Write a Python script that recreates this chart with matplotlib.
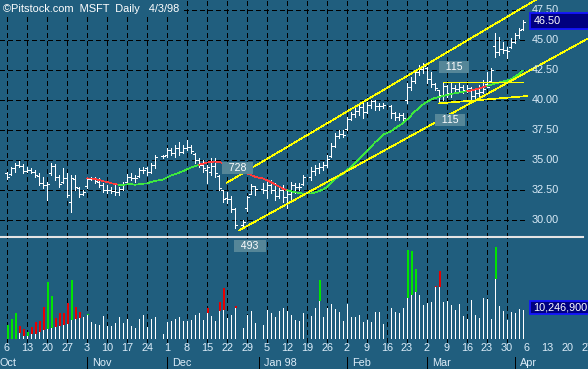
import numpy as np
import pandas as pd
import matplotlib
matplotlib.use("Agg")
import matplotlib.pyplot as plt
from matplotlib.collections import LineCollection
from matplotlib.patches import Rectangle
from matplotlib.lines import Line2D
import matplotlib.transforms as mtransforms

plt.rcParams['font.family'] = ['Liberation Sans', 'DejaVu Sans']

# ---------------- data ----------------
title = "\u00a9Pitstock.com  MSFT  Daily   4/3/98"
start = "1997-10-06"
end = "1998-04-03"
holidays = ["1997-11-27", "1997-12-25", "1998-01-01", "1998-01-19", "1998-02-16"]

high = [34.0, 34.4, 34.75, 34.9, 34.67,
        34.4, 34.33, 34.17, 33.9, 33.6,
        33.2, 34.75, 34.67, 33.75, 34.33,
        33.9, 33.75, 33.75, 32.75, 32.5,
        33.6, 33.6, 33.6, 33.5, 33.1,
        32.9, 32.75, 32.9, 32.75, 33.17,
        33.83, 33.9, 33.75, 34.33, 34.4,
        34.4, 34.75, 35.4, 35.4,
        36.0, 36.0, 36.25, 36.5, 36.25,
        36.67, 36.25, 35.6, 35.17, 35.0,
        34.6, 35.17, 35.17, 33.75, 32.5,
        32.33, 32.0, 31.0, 30.0,
        32.0, 33.0, 32.83, 33.1,
        33.17, 33.33, 33.1, 32.75, 32.9,
        32.5, 33.17, 33.1, 33.1, 33.75,
        34.4, 34.58, 34.75, 34.83,
        35.4, 36.4, 37.25, 37.5, 37.5,
        38.58, 39.0, 39.33, 39.75, 39.75,
        39.83, 40.0, 40.0, 39.75, 39.75,
        39.58, 39.0, 38.9, 38.9,
        41.4, 41.9, 42.5, 42.9, 43.08,
        42.75, 42.33, 41.4, 40.83, 41.5,
        41.25, 41.4, 41.25, 41.4, 41.25,
        41.25, 41.08, 41.0, 41.25, 41.67,
        42.33, 42.67, 45.58, 45.25, 44.83,
        44.4, 45.17, 45.58, 46.0, 46.67]

low = [33.4, 33.75, 34.0, 34.4, 33.9,
       34.0, 33.9, 33.6, 32.9, 32.67,
       31.67, 33.75, 33.33, 32.75, 33.1,
       31.9, 30.67, 32.5, 31.9, 32.1,
       32.67, 33.33, 33.1, 32.75, 32.33,
       32.25, 32.25, 32.1, 32.1, 32.5,
       33.17, 33.33, 33.17, 33.6, 33.9,
       33.75, 33.9, 34.33, 35.17,
       35.25, 35.4, 35.25, 35.4, 35.6,
       35.83, 35.6, 34.75, 34.4, 34.0,
       33.1, 33.75, 33.6, 32.5, 31.5,
       31.4, 30.67, 29.33, 29.4,
       30.75, 32.17, 32.1, 32.25,
       31.83, 32.25, 31.67, 31.83, 31.5,
       31.0, 31.67, 32.25, 32.5, 32.9,
       33.33, 33.75, 33.9, 34.17,
       34.4, 35.25, 36.08, 36.83, 36.9,
       37.5, 38.33, 38.58, 38.75, 38.5,
       38.9, 39.33, 39.17, 39.17, 39.33,
       38.5, 38.33, 38.33, 38.08,
       39.75, 40.83, 41.4, 42.08, 42.25,
       41.4, 41.08, 40.83, 39.75, 40.0,
       40.25, 40.25, 40.58, 40.67, 40.58,
       40.67, 40.0, 40.0, 40.25, 40.58,
       41.08, 41.5, 43.58, 43.75, 43.9,
       43.5, 44.33, 44.75, 45.17, 45.83]

open_ = [33.9, 33.8, 34.3, 34.6, 34.5,
         34.1, 34.2, 34.0, 33.7, 33.1,
         32.9, 33.9, 34.5, 33.6, 33.2,
         33.5, 31.5, 33.4, 32.7, 32.2,
         32.8, 33.4, 33.4, 33.2, 32.9,
         32.5, 32.5, 32.4, 32.3, 32.6,
         33.2, 33.6, 33.5, 33.7, 34.2,
         34.3, 34.0, 34.6, 35.3,
         35.4, 35.8, 35.6, 36.0, 35.7,
         36.0, 36.1, 35.5, 35.0, 34.6,
         34.2, 34.0, 34.5, 33.7, 32.5,
         31.8, 31.75, 30.9, 29.6,
         31.0, 32.2, 32.8, 32.6,
         32.5, 32.9, 32.5, 32.0, 32.5,
         31.9, 32.2, 32.9, 32.75, 33.0,
         33.6, 34.1, 34.3, 34.4,
         34.6, 35.3, 36.2, 37.0, 37.2,
         37.6, 38.4, 38.8, 39.1, 39.4,
         39.0, 39.6, 39.9, 39.5, 39.5,
         39.5, 38.9, 38.6, 38.75,
         40.0, 41.1, 41.6, 42.3, 42.6,
         42.7, 41.75, 41.3, 40.8, 40.3,
         41.2, 40.6, 41.0, 40.9, 41.1,
         40.8, 41.0, 40.3, 40.6, 40.7,
         41.3, 41.6, 44.5, 44.0, 44.25,
         44.2, 44.4, 44.8, 45.4, 45.9]

close = [33.6, 34.3, 34.6, 34.5, 34.1,
         34.2, 34.0, 33.75, 33.1, 32.9,
         33.0, 34.5, 33.6, 33.0, 33.5,
         32.1, 33.5, 32.75, 32.2, 32.3,
         33.4, 33.4, 33.25, 32.9, 32.5,
         32.5, 32.4, 32.3, 32.6, 33.0,
         33.6, 33.5, 33.5, 34.2, 34.2,
         34.0, 34.6, 35.25, 35.3,
         35.8, 35.6, 36.0, 35.7, 36.0,
         36.1, 35.75, 35.0, 34.6, 34.3,
         34.4, 34.5, 33.9, 32.7, 31.75,
         31.75, 30.9, 29.6, 29.8,
         31.9, 32.8, 32.6, 32.5,
         32.9, 32.5, 32.0, 32.5, 31.9,
         32.2, 32.9, 32.75, 32.75, 33.6,
         34.1, 34.3, 34.4, 34.6,
         35.1, 36.2, 37.0, 37.2, 37.1,
         38.4, 38.8, 39.1, 39.4, 39.0,
         39.6, 39.9, 39.5, 39.5, 39.6,
         38.9, 38.6, 38.75, 38.5,
         41.1, 41.6, 42.3, 42.6, 42.8,
         41.75, 41.3, 41.0, 40.4, 41.2,
         40.6, 41.0, 40.9, 41.1, 40.8,
         41.0, 40.3, 40.6, 40.7, 40.9,
         41.1, 42.5, 44.0, 44.25, 44.2,
         44.1, 44.8, 45.4, 45.8, 46.5]

# volume in millions of shares
volume = [4.9, 7.1, 9.2, 4.6, 3.5,
          2.5, 4.2, 6.0, 6.4, 11.3,
          20.1, 15.2, 7.4, 9.2, 9.2,
          12.7, 20.8, 11.3, 9.5, 7.8,
          8.8, 6.0, 5.3, 4.9, 8.1,
          4.6, 4.6, 5.7, 7.8, 5.7,
          7.1, 4.6, 3.9, 7.1, 8.5,
          4.2, 7.1, 7.8, 1.8,
          6.0, 6.4, 7.1, 7.8, 6.4,
          6.4, 6.7, 8.5, 9.2, 6.7,
          11.0, 8.1, 6.4, 13.1, 18.0,
          7.4, 8.5, 11.7, 3.9,
          8.5, 9.9, 5.7, 4.9,
          10.2, 9.2, 7.8, 9.9, 11.0,
          9.9, 8.5, 6.7, 6.4, 9.2,
          8.1, 11.0, 20.8, 7.8,
          11.0, 12.4, 10.6, 9.5, 6.4,
          12.4, 7.8, 7.8, 8.5, 6.0,
          6.7, 6.0, 9.5, 9.5, 5.3,
          11.0, 9.5, 9.2, 11.0,
          31.4, 31.1, 24.7, 15.5, 12.0,
          12.7, 13.1, 18.7, 24.0, 13.1,
          13.4, 12.0, 10.2, 12.4, 8.1,
          7.1, 13.8, 8.5, 7.4, 14.5,
          14.1, 7.1, 32.5, 11.7, 9.9,
          6.7, 9.5, 9.2, 10.6, 10.2469]

# volume bars with a coloured excess part: date, level where colour starts, colour
hl_dates = ["1997-10-06", "1997-10-07", "1997-10-08", "1997-10-09", "1997-10-10",
            "1997-10-13", "1997-10-14", "1997-10-15", "1997-10-16", "1997-10-17",
            "1997-10-20", "1997-10-21", "1997-10-22", "1997-10-23", "1997-10-24",
            "1997-10-27", "1997-10-28", "1997-10-29", "1997-10-30", "1997-11-03",
            "1997-12-15", "1997-12-18", "1997-12-19", "1997-12-24", "1998-01-22",
            "1998-02-23", "1998-02-24", "1998-02-25", "1998-03-04", "1998-03-05",
            "1998-03-25"]
hl_base = [0, 0, 0, 2.1, 1.1, 1.1, 1.8, 1.8, 2.5, 3.2,
           3.5, 3.9, 4.2, 4.6, 4.9, 5.3, 6.7, 7.1, 7.4, 8.5,
           9.2, 9.9, 10.2, 11.0, 13.4, 14.5, 15.5, 16.6, 18.4, 18.4, 21.2]
hl_color = ["g", "g", "g", "r", "r", "g", "r", "r", "r", "r",
            "g", "g", "r", "r", "r", "r", "g", "r", "r", "g",
            "r", "r", "r", "r", "g", "g", "g", "g", "r", "r", "g"]

ma_period = 21

# trend lines: (date, price) endpoints
trend_lines = [
    (("1997-12-22", 33.12), ("1998-04-13", 48.9)),
    (("1997-12-25", 29.13), ("1998-04-27", 45.08)),
    (("1998-03-06", 41.53), ("1998-04-03", 41.53)),
    (("1998-03-05", 39.72), ("1998-04-06", 40.33)),
]
# annotation labels: text, weekday offset from start, price
annotations = [("728", 57.6, 34.33), ("493", 60.75, 27.83),
               ("115", 111.75, 42.75), ("115", 110.75, 38.33)]

price_levels = [30.0, 32.5, 35.0, 37.5, 40.0, 42.5, 45.0, 47.5]
months = [("1997-10-01", "Oct"), ("1997-11-01", "Nov"), ("1997-12-01", "Dec"),
          ("1998-01-01", "Jan 98"), ("1998-02-01", "Feb"), ("1998-03-01", "Mar"),
          ("1998-04-01", "Apr")]

# ---------------- styling ----------------
BG = "#205e7e"
PALE = "#dcecf8"
GREEN = "#3ee83e"
RED = "#ff3c3c"
VGREEN = "#00e400"
VRED = "#e80000"
YEL = "#ffff00"
PX = 0.72  # one pixel in points at 100 dpi
THIN = 0.5
W, H = 588, 369

dates = pd.bdate_range(start, end)
dates = dates[~dates.isin(pd.to_datetime(holidays))]
d64 = dates.values.astype("datetime64[D]")
s64 = np.datetime64(start)
xi = np.busday_count(s64, d64).astype(float)


def wx(d):
    return float(np.busday_count(s64, np.datetime64(d)))


fig = plt.figure(figsize=(W / 100, H / 100), dpi=100, facecolor=BG)
XL = (-1.75, (W - 7) / 4)
p_top = 40 + 100 / 12
p_bot = p_top - 237 / 12
ax_p = fig.add_axes([0, 1 - 237 / H, 1, 237 / H])
ax_v = fig.add_axes([0, 1 - 339 / H, 1, (339 - 237) / H])
v_per_px = volume[-1] / 29.0
ax_p.set_xlim(*XL); ax_p.set_ylim(p_bot, p_top)
ax_v.set_xlim(*XL); ax_v.set_ylim(0, 102 * v_per_px)
for a in (ax_p, ax_v):
    a.set_facecolor("none")
    for s in a.spines.values():
        s.set_visible(False)
    a.set_yticks([])
ax_p.set_xticks([])
ax_p.set_zorder(3)
ax_v.set_zorder(2)

# grid
mondays = np.arange(0, wx("1998-04-03") + 1, 5)
dash = (0, (5, 4))
ax_p.vlines(mondays, p_bot, p_top, colors="black", lw=PX, linestyles=dash, zorder=1, antialiased=False)
ax_p.hlines(price_levels, XL[0], (524 - 7) / 4, colors="black", lw=PX, linestyles=dash, zorder=1, antialiased=False)
ax_v.vlines(mondays, -3 * v_per_px, 102 * v_per_px, colors="black", lw=PX, linestyles=dash,
            zorder=1, clip_on=False, antialiased=False)

# OHLC bars
segs = []
for x, o, h, l, c in zip(xi, open_, high, low, close):
    segs.append([(x, l), (x, h)])
    segs.append([(x - 0.5, o), (x, o)])
    segs.append([(x, c), (x + 0.5, c)])
ax_p.add_collection(LineCollection(segs, colors="white", linewidths=PX, zorder=3, antialiased=False))

# moving average coloured by close vs average
ma = pd.Series(close).rolling(ma_period).mean().values
mseg, mcol = [], []
for k in range(1, len(close)):
    if np.isnan(ma[k - 1]):
        continue
    mseg.append([(xi[k - 1], ma[k - 1]), (xi[k], ma[k])])
    mcol.append(GREEN if close[k] >= ma[k] else RED)
ax_p.add_collection(LineCollection(mseg, colors=mcol, linewidths=THIN, zorder=4, antialiased=False))

# trend lines
for (d0, p0), (d1, p1) in trend_lines:
    ax_p.plot([wx(d0), wx(d1)], [p0, p1], color=YEL, lw=THIN, zorder=5, antialiased=False)

# annotations
for txt, xa, pa in annotations:
    ax_p.text(xa, pa, "  " + txt + "  ", color="white", fontsize=7.6, ha="center", va="center",
              zorder=7, clip_on=False,
              bbox=dict(boxstyle="square,pad=0.12", facecolor="#558698", edgecolor="none"))

# price scale labels
for p in price_levels:
    ax_p.text((532 - 7) / 4, p, f"{p:.2f}", color=PALE, fontsize=7.8, ha="left", va="center", zorder=6)

# last price box
lastp = close[-1]
ax_p.add_patch(Rectangle(((530 - 7) / 4, lastp - 0.58), 20, 1.36, facecolor="#000080",
                         edgecolor="#1414ff", lw=1.3, zorder=6))
ax_p.text((534 - 7) / 4, lastp + 0.1, f"{lastp:.2f}", color="white", fontsize=7.8,
          ha="left", va="center", zorder=7)

# volume bars
ax_v.vlines(xi, 0, volume, colors="white", lw=PX, zorder=3, antialiased=False)
vol_by_date = dict(zip([str(d)[:10] for d in d64], volume))
for d, b, c in zip(hl_dates, hl_base, hl_color):
    x = wx(d)
    v = vol_by_date[d]
    ax_v.bar(x + 0.25, v - b, bottom=b, width=0.5, color=VGREEN if c == "g" else VRED,
             zorder=4, linewidth=0, antialiased=False)

lastv = volume[-1]
ax_v.add_patch(Rectangle(((530 - 7) / 4, (339 - 314) * v_per_px), 20, 13 * v_per_px,
                         facecolor="#000080", edgecolor="#1414ff", lw=1.3, zorder=6))
ax_v.text((533 - 7) / 4, (339 - 307.5) * v_per_px, f"{lastv * 1e6:,.0f}", color="white",
          fontsize=7.8, ha="left", va="center", zorder=7)

# date axis
mon_all = np.arange(0, 146, 5)
day_labels = pd.date_range(start, periods=len(mon_all), freq="7D").day
ax_v.set_xticks(mon_all)
ax_v.set_xticklabels([str(d) for d in day_labels])
ax_v.tick_params(axis="x", length=0, pad=2.6, labelsize=7.8, labelcolor=PALE)

tr = mtransforms.blended_transform_factory(ax_v.transData, fig.transFigure)
for d, name in months:
    mx = wx(d)
    ax_v.add_artist(Line2D([mx, mx], [1 - 357 / H, 0], transform=tr, color="black",
                           lw=PX, clip_on=False, antialiased=False))
    ax_v.text(mx + 1.25, 1 - 362.5 / H, name, transform=tr, color=PALE, fontsize=7.8,
              ha="left", va="center", clip_on=False)

# separator
fig.add_artist(Line2D([0, 0.992], [1 - 237 / H, 1 - 237 / H], transform=fig.transFigure,
                      color="#e4e4e4", lw=1.5, zorder=10))

# title
fig.text(3 / W, 1 - 11.5 / H, title, color="white", fontsize=7.9, ha="left", va="baseline",
         zorder=20, bbox=dict(facecolor=BG, edgecolor="none", pad=2.0))

fig.savefig("out.png", dpi=100, facecolor=BG)
